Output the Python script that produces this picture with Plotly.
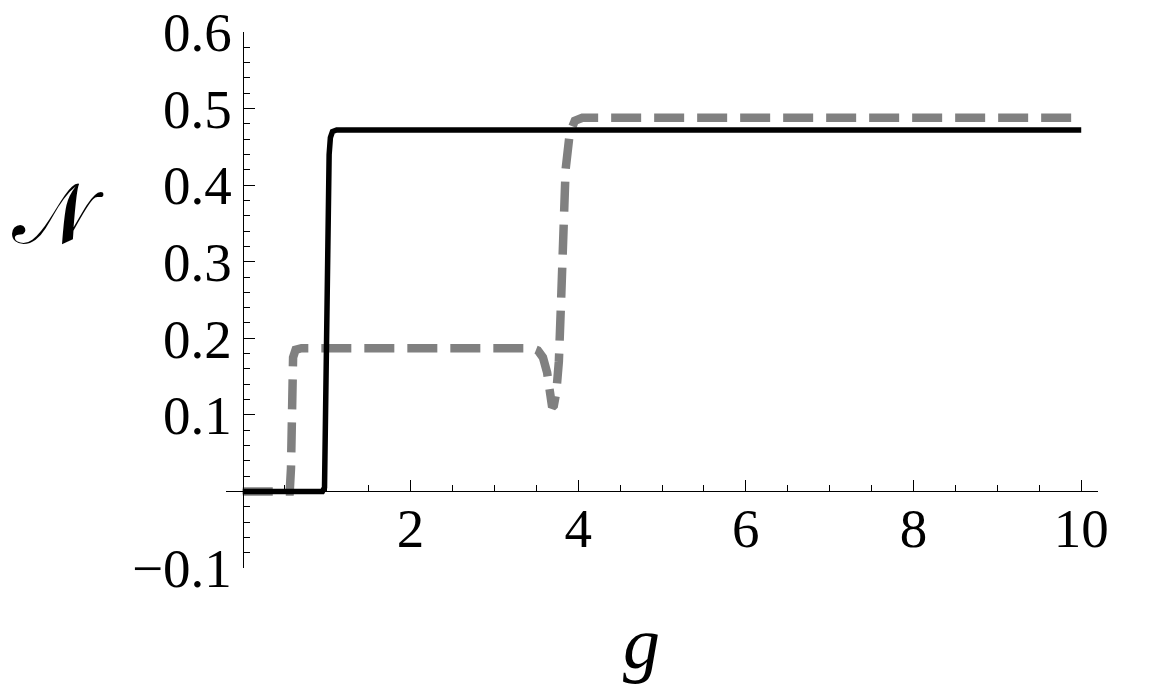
import numpy as np
import plotly.graph_objects as go

# solid black curve
g_solid = [0.0, 0.95, 0.975, 0.99, 1.0, 1.015, 1.03, 1.045, 1.07, 1.12, 10.0]
n_solid = [0.0, 0.0, 0.005, 0.09, 0.18, 0.32, 0.44, 0.462, 0.470, 0.472, 0.472]

# dashed grey curve
g_dash = [0.0, 0.56, 0.575, 0.585, 0.60, 0.63, 0.70, 3.45, 3.52, 3.58, 3.63,
          3.67, 3.69, 3.71, 3.74, 3.77, 3.80, 3.85, 3.90, 3.96, 4.05, 10.0]
n_dash = [0.0, 0.0, 0.03, 0.12, 0.175, 0.185, 0.187, 0.187, 0.184, 0.175, 0.155,
          0.125, 0.11, 0.112, 0.13, 0.17, 0.26, 0.42, 0.468, 0.484, 0.488, 0.488]

# ticks
x_tickvals = [2, 4, 6, 8, 10]
x_ticktext = ["2", "4", "6", "8", "10"]
y_tickvals = [-0.1, 0.1, 0.2, 0.3, 0.4, 0.5, 0.6]
y_ticktext = ["\u22120.1", "0.1", "0.2", "0.3", "0.4", "0.5", "0.6"]

X_RANGE = [-0.2, 10.2]
Y_RANGE = [-0.1, 0.6]
SERIF = "Liberation Serif, Times New Roman, serif"

fig = go.Figure()
fig.add_trace(
    go.Scatter(
        x=g_dash, y=n_dash, mode="lines",
        line=dict(color="#808080", width=8.5, dash="30px,13px"),
        showlegend=False, hoverinfo="skip",
    )
)
fig.add_trace(
    go.Scatter(
        x=g_solid, y=n_solid, mode="lines",
        line=dict(color="black", width=5.5),
        showlegend=False, hoverinfo="skip",
    )
)

# axes cross at the origin, like the Mathematica frame-less style
x_pos = (0 - Y_RANGE[0]) / (Y_RANGE[1] - Y_RANGE[0])
y_pos = (0 - X_RANGE[0]) / (X_RANGE[1] - X_RANGE[0])

fig.update_xaxes(
    range=X_RANGE, anchor="free", position=x_pos, automargin=False,
    showline=True, linecolor="black", linewidth=1.2,
    showgrid=False, zeroline=False,
    ticks="inside", ticklen=11, tickwidth=1.2, tickcolor="black",
    tickmode="array", tickvals=x_tickvals, ticktext=x_ticktext,
    ticklabelstandoff=-12, ticklabeloverflow="allow",
    tickfont=dict(family=SERIF, size=55, color="black"),
    minor=dict(ticks="inside", ticklen=6, tickwidth=1.2, tickcolor="black",
               tickmode="array", tickvals=list(np.arange(0.5, 10.01, 0.5))),
)
fig.update_yaxes(
    range=Y_RANGE, anchor="free", position=y_pos, automargin=False,
    showline=True, linecolor="black", linewidth=1.2,
    showgrid=False, zeroline=False,
    ticks="inside", ticklen=11, tickwidth=1.2, tickcolor="black",
    tickmode="array", tickvals=y_tickvals, ticktext=y_ticktext,
    ticklabeloverflow="allow",
    tickfont=dict(family=SERIF, size=55, color="black"),
    minor=dict(ticks="inside", ticklen=6, tickwidth=1.2, tickcolor="black",
               tickmode="array", tickvals=list(np.round(np.arange(-0.1, 0.601, 0.02), 2))),
)

fig.add_annotation(
    text="<i>g</i>", xref="paper", yref="paper", x=0.477, y=-0.139,
    xanchor="center", yanchor="middle", showarrow=False,
    font=dict(family=SERIF, size=74, color="black"),
)
fig.add_annotation(
    text="\U0001D4A9", xref="paper", yref="paper", x=-0.193, y=0.66,
    xanchor="center", yanchor="middle", showarrow=False,
    font=dict(family=SERIF, size=84, color="black"),
)

# page body has an 8px margin, so the figure is shifted by 8px
fig.update_layout(
    width=1141, height=682, autosize=False,
    margin=dict(l=218, r=51, t=24, b=122),
    plot_bgcolor="white", paper_bgcolor="white",
    showlegend=False,
)

fig.write_html("out.html")
